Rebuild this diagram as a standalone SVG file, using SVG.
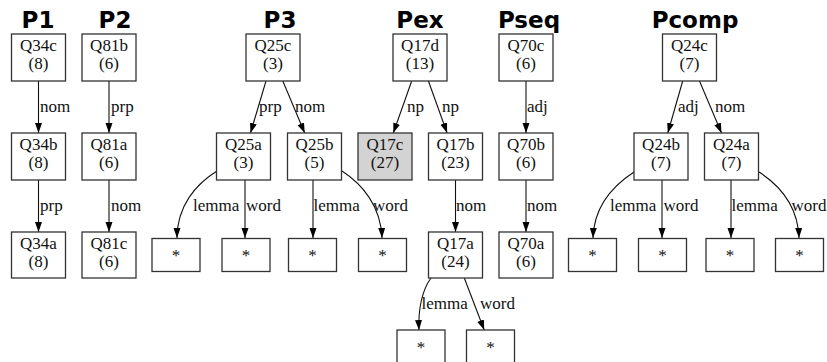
<svg xmlns="http://www.w3.org/2000/svg" width="827" height="362" viewBox="0 0 827 362">
<style>
.t{font-family:"DejaVu Sans",sans-serif;font-weight:bold;font-size:23px;fill:#000;text-anchor:middle}
.n rect{fill:#fff;stroke:#333;stroke-width:1.3}
.n text{font-family:"Liberation Serif","Times New Roman",serif;font-size:17px;fill:#111;text-anchor:middle}
.g rect{fill:#d3d3d3}
.e path{fill:none;stroke:#111;stroke-width:1.1;marker-end:url(#ah)}
.e text{font-family:"Liberation Serif","Times New Roman",serif;font-size:17px;fill:#111}
</style>
<defs>
<marker id="ah" markerUnits="userSpaceOnUse" markerWidth="12" markerHeight="8" refX="10" refY="3.5" orient="auto">
<path d="M0,0 L10,3.5 L0,7 Z" fill="#000"/>
</marker>
</defs>
<rect width="827" height="362" fill="#fff"/>
<g id="titles">
<text class="t" x="38" y="28">P1</text>
<text class="t" x="115" y="28">P2</text>
<text class="t" x="280" y="28">P3</text>
<text class="t" x="420" y="28">Pex</text>
<text class="t" x="529" y="28">Pseq</text>
<text class="t" x="695" y="28">Pcomp</text>
</g>
<g id="edges" class="e">
<path d="M38.5,81 V133"/><text x="40" y="112">nom</text>
<path d="M38.5,180 V232"/><text x="40" y="211">prp</text>
<path d="M109,81 V133"/><text x="111" y="112">prp</text>
<path d="M109,180 V232"/><text x="111" y="211">nom</text>
<path d="M266,81 L250.5,133"/><text x="259" y="112">prp</text>
<path d="M282.8,81 L304.7,133"/><text x="295" y="112">nom</text>
<path d="M217,171 C196,184 177,206 177,238"/><text x="193" y="211">lemma</text>
<path d="M245,180 V238"/><text x="246" y="211">word</text>
<path d="M313,180 V238"/><text x="313.5" y="211">lemma</text>
<path d="M342,171 C362,184 381,206 382,238"/><text x="373" y="211">word</text>
<path d="M411.7,81 L393.3,133"/><text x="407" y="112">np</text>
<path d="M428.4,81 L447.1,133"/><text x="442" y="112">np</text>
<path d="M455.5,180 V232"/><text x="456" y="211">nom</text>
<path d="M431,278 C422,290 418,310 419,330"/><text x="421.5" y="309">lemma</text>
<path d="M464.3,278 L484.2,330"/><text x="480" y="309">word</text>
<path d="M526,81 V133"/><text x="527" y="112">adj</text>
<path d="M526,180 V232"/><text x="527" y="211">nom</text>
<path d="M682.7,81 L667.8,133"/><text x="678" y="112">adj</text>
<path d="M699.5,81 L721.5,133"/><text x="715" y="112">nom</text>
<path d="M634,172 C614,185 594,206 593,238"/><text x="610" y="211">lemma</text>
<path d="M662,180 V238"/><text x="663.5" y="211">word</text>
<path d="M731,180 V238"/><text x="731.5" y="211">lemma</text>
<path d="M759,172 C779,185 798,206 799,238"/><text x="791.5" y="211">word</text>
</g>
<g id="Q34c" class="n"><rect x="11.5" y="34" width="54" height="47"/><text x="38.5" y="51">Q34c</text><text x="38.5" y="69">(8)</text></g>
<g id="Q34b" class="n"><rect x="11.5" y="133" width="54" height="47"/><text x="38.5" y="150">Q34b</text><text x="38.5" y="168">(8)</text></g>
<g id="Q34a" class="n"><rect x="11.5" y="232" width="54" height="46"/><text x="38.5" y="249">Q34a</text><text x="38.5" y="267">(8)</text></g>
<g id="Q81b" class="n"><rect x="82" y="34" width="54" height="47"/><text x="109" y="51">Q81b</text><text x="109" y="69">(6)</text></g>
<g id="Q81a" class="n"><rect x="82" y="133" width="54" height="47"/><text x="109" y="150">Q81a</text><text x="109" y="168">(6)</text></g>
<g id="Q81c" class="n"><rect x="82" y="232" width="54" height="46"/><text x="109" y="249">Q81c</text><text x="109" y="267">(6)</text></g>
<g id="Q25c" class="n"><rect x="246" y="34" width="54" height="47"/><text x="273" y="51">Q25c</text><text x="273" y="69">(3)</text></g>
<g id="Q25a" class="n"><rect x="216.5" y="133" width="54" height="47"/><text x="243.5" y="150">Q25a</text><text x="243.5" y="168">(3)</text></g>
<g id="Q25b" class="n"><rect x="287.5" y="133" width="54" height="47"/><text x="314.5" y="150">Q25b</text><text x="314.5" y="168">(5)</text></g>
<g id="s1" class="n"><rect x="152" y="238.5" width="48" height="33"/><text x="176" y="261">*</text></g>
<g id="s2" class="n"><rect x="222" y="238.5" width="48" height="33"/><text x="246" y="261">*</text></g>
<g id="s3" class="n"><rect x="288.5" y="238.5" width="48" height="33"/><text x="312.5" y="261">*</text></g>
<g id="s4" class="n"><rect x="358.5" y="238.5" width="48" height="33"/><text x="382.5" y="261">*</text></g>
<g id="Q17d" class="n"><rect x="393" y="34" width="54" height="47"/><text x="420" y="51">Q17d</text><text x="420" y="69">(13)</text></g>
<g id="Q17c" class="n g"><rect x="358" y="133" width="54" height="47"/><text x="385" y="150">Q17c</text><text x="385" y="168">(27)</text></g>
<g id="Q17b" class="n"><rect x="428.5" y="133" width="54" height="47"/><text x="455.5" y="150">Q17b</text><text x="455.5" y="168">(23)</text></g>
<g id="Q17a" class="n"><rect x="428.5" y="232" width="54" height="46"/><text x="455.5" y="249">Q17a</text><text x="455.5" y="267">(24)</text></g>
<g id="s5" class="n"><rect x="397" y="330" width="48" height="33"/><text x="421" y="352.5">*</text></g>
<g id="s6" class="n"><rect x="466.5" y="330" width="48" height="33"/><text x="490.5" y="352.5">*</text></g>
<g id="Q70c" class="n"><rect x="499" y="34" width="54" height="47"/><text x="526" y="51">Q70c</text><text x="526" y="69">(6)</text></g>
<g id="Q70b" class="n"><rect x="499" y="133" width="54" height="47"/><text x="526" y="150">Q70b</text><text x="526" y="168">(6)</text></g>
<g id="Q70a" class="n"><rect x="499" y="232" width="54" height="46"/><text x="526" y="249">Q70a</text><text x="526" y="267">(6)</text></g>
<g id="Q24c" class="n"><rect x="662.5" y="34" width="54" height="47"/><text x="689.5" y="51">Q24c</text><text x="689.5" y="69">(7)</text></g>
<g id="Q24b" class="n"><rect x="634" y="133" width="54" height="47"/><text x="661" y="150">Q24b</text><text x="661" y="168">(7)</text></g>
<g id="Q24a" class="n"><rect x="704.5" y="133" width="54" height="47"/><text x="731.5" y="150">Q24a</text><text x="731.5" y="168">(7)</text></g>
<g id="s7" class="n"><rect x="568.5" y="238.5" width="48" height="33"/><text x="592.5" y="261">*</text></g>
<g id="s8" class="n"><rect x="638.5" y="238.5" width="48" height="33"/><text x="662.5" y="261">*</text></g>
<g id="s9" class="n"><rect x="706" y="238.5" width="48" height="33"/><text x="730" y="261">*</text></g>
<g id="s10" class="n"><rect x="775.5" y="238.5" width="48" height="33"/><text x="799.5" y="261">*</text></g>
</svg>
